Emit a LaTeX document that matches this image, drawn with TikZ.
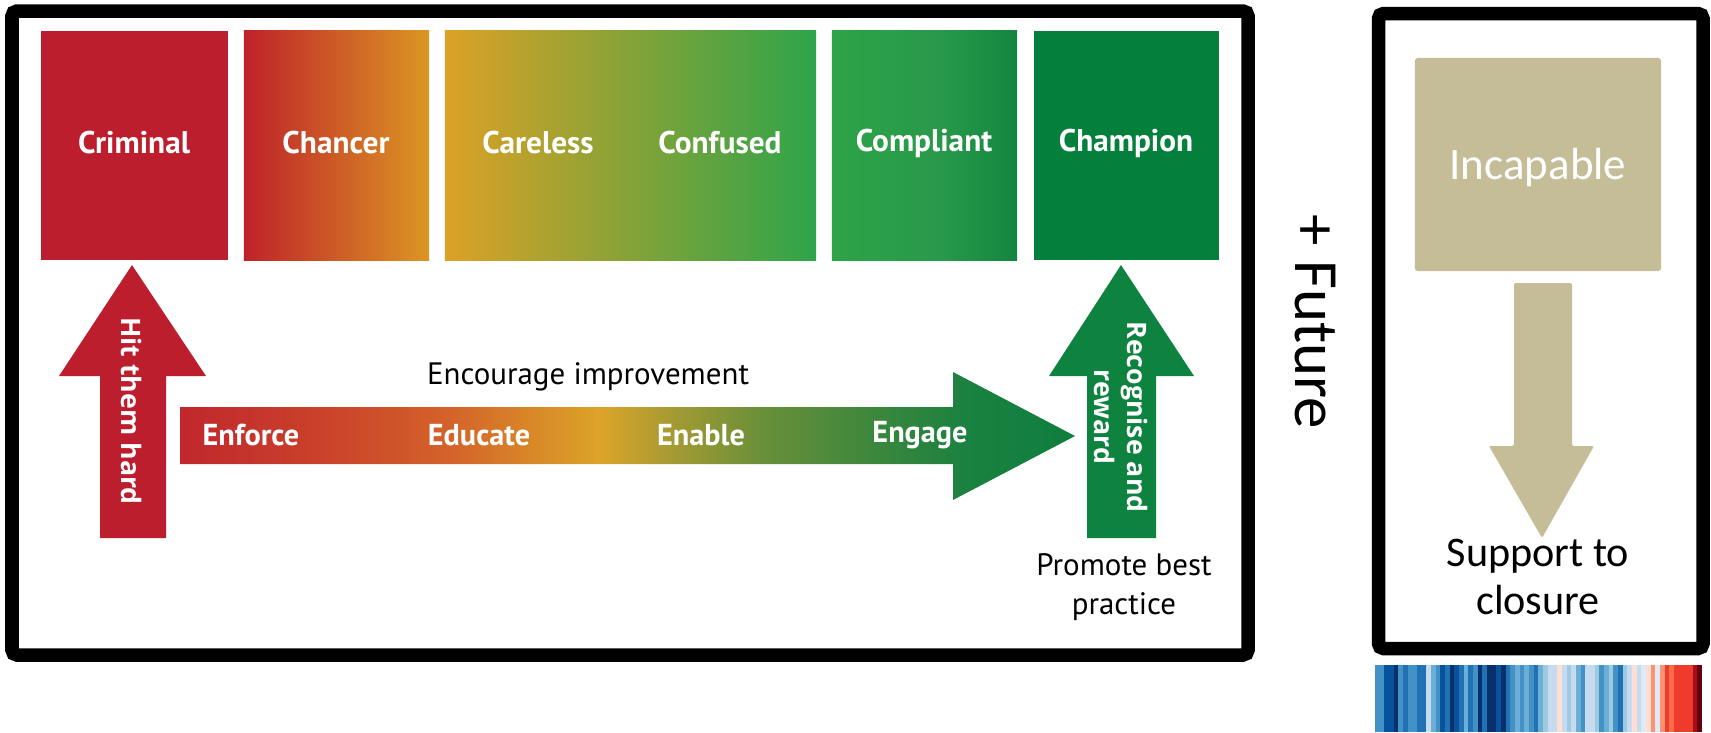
\documentclass[tikz,border=0pt]{standalone}
\usepackage{fontspec}
\setmainfont{PT Sans}
\newfontfamily\osans{Open Sans}
\newfontfamily\calib{Carlito}
\definecolor{crim}{HTML}{BD1E2D}
\definecolor{champ}{HTML}{05803C}
\definecolor{recog}{HTML}{0E833F}
\definecolor{tanc}{HTML}{C5BD97}
\definecolor{b1}{HTML}{08306B}
\definecolor{b2}{HTML}{08519C}
\definecolor{b3}{HTML}{2171B5}
\definecolor{b4}{HTML}{4292C6}
\definecolor{b5}{HTML}{6BAED6}
\definecolor{b6}{HTML}{9ECAE1}
\definecolor{b7}{HTML}{C6DBEF}
\definecolor{b8}{HTML}{DEEBF7}
\definecolor{r8}{HTML}{FEE0D2}
\definecolor{r7}{HTML}{FCBBA1}
\definecolor{r6}{HTML}{FC9272}
\definecolor{r5}{HTML}{FB6A4A}
\definecolor{r4}{HTML}{EF3B2C}
\definecolor{r3}{HTML}{CB181D}
\definecolor{r2}{HTML}{A50F15}
\definecolor{r1}{HTML}{67000D}
\definecolor{g0}{HTML}{C1272D}
\definecolor{g1}{HTML}{C9402B}
\definecolor{g2}{HTML}{D4622A}
\definecolor{g3}{HTML}{D98A28}
\definecolor{g4}{HTML}{DCA42A}
\definecolor{g5}{HTML}{A59A33}
\definecolor{g6}{HTML}{6A8F39}
\definecolor{g7}{HTML}{3A873D}
\definecolor{g8}{HTML}{1A8140}
\definecolor{g9}{HTML}{0E7F3E}
\definecolor{chL}{HTML}{BF2229}
\definecolor{chR}{HTML}{DB9623}
\definecolor{caL}{HTML}{DCA126}
\definecolor{caR}{HTML}{2EA44A}
\definecolor{coL}{HTML}{2EA348}
\definecolor{coM}{HTML}{28994A}
\definecolor{coR}{HTML}{138540}
\pgfdeclarehorizontalshading{chancersh}{100bp}{color(0bp)=(chL); color(25bp)=(chL); color(75bp)=(chR); color(100bp)=(chR)}
\pgfdeclarehorizontalshading{carelesssh}{100bp}{color(0bp)=(caL); color(25bp)=(caL); color(75bp)=(caR); color(100bp)=(caR)}
\pgfdeclarehorizontalshading{compliantsh}{100bp}{color(0bp)=(coL); color(25bp)=(coL); color(55bp)=(coM); color(75bp)=(coR); color(100bp)=(coR)}
\pgfdeclarehorizontalshading{improvesh}{100bp}{color(0bp)=(g0); color(25bp)=(g0); color(32.5bp)=(g1); color(40bp)=(g2); color(45bp)=(g3); color(48.5bp)=(g4); color(52.5bp)=(g5); color(57.5bp)=(g6); color(64bp)=(g7); color(69bp)=(g8); color(75bp)=(g9); color(100bp)=(g9)}
\begin{document}
\begin{tikzpicture}[x=0.01cm,y=-0.01cm,
  boxlab/.style={text=white,font=\bfseries\fontsize{8.9}{10}\selectfont,inner sep=0pt},
  arrlab/.style={text=white,font=\bfseries\fontsize{8.6}{10}\selectfont,inner sep=0pt},
  vlab/.style={text=white,font=\osans\bfseries\fontsize{7.6}{9.4}\selectfont,inner sep=0pt,rotate=-90,align=center},
  blab/.style={text=black,font=\fontsize{8.8}{11.1}\selectfont,inner sep=0pt,align=center},
  frame/.style={draw=black,line width=0.135cm,rounded corners=0.05cm},
  box/.style={inner sep=0pt,minimum height=2.29cm}
]
\useasboundingbox (0,0) rectangle (1711,732);
\fill[white] (0,0) rectangle (1711,732);
% frames
\draw[frame] (12,11) rectangle (1248,655);
\draw[frame] (1378.5,13.5) rectangle (1703,648.5);
% boxes
\node[box,fill=crim,minimum width=1.87cm] (criminal) at (134.5,145.5) {};
\node[box,shading=chancersh,minimum width=1.85cm] (chancer) at (336.5,145.5) {};
\node[box,shading=carelesssh,minimum width=3.71cm] (careconf) at (630.5,145.5) {};
\node[box,shading=compliantsh,minimum width=1.85cm] (compliant) at (924.5,145.5) {};
\node[box,fill=champ,minimum width=1.85cm] (champion) at (1126.5,145.5) {};
\node[boxlab] (lcrim) at (134,143) {Criminal};
\node[boxlab] (lchan) at (336,143) {Chancer};
\node[boxlab] (lcare) at (538,143) {Careless};
\node[boxlab] (lconf) at (720,143) {Confused};
\node[boxlab] (lcomp) at (924,143) {Compliant};
\node[boxlab] (lchamp) at (1126,143) {Champion};
% hit arrow
\fill[crim] (100,538) -- (100,376) -- (59,376) -- (132,265) -- (206,376) -- (166,376) -- (166,538) -- cycle;
\node[vlab] (hit) at (132,411) {Hit them hard};
% improvement arrow
\shade[shading=improvesh] (180,407) -- (953,407) -- (953,372) -- (1075,436) -- (953,500) -- (953,464) -- (180,464) -- cycle;
\node[arrlab] (enf) at (251,435) {Enforce};
\node[arrlab] (edu) at (479,435) {Educate};
\node[arrlab] (ena) at (701,435) {Enable};
\node[arrlab] (eng) at (920,435) {Engage};
\node[blab] (enc) at (588,377) {Encourage improvement};
% recognise arrow
\fill[recog] (1087,538) -- (1087,376) -- (1049,376) -- (1121,265) -- (1194,376) -- (1156,376) -- (1156,538) -- cycle;
\node[vlab] (rec) at (1121,417) {Recognise and\\reward};
\node[blab] (prom) at (1124,587) {Promote best\\practice};
% future
\node[text=black,font=\calib\fontsize{17.9}{21}\selectfont,rotate=-90,inner sep=0pt] (future) at (1315,322) {+ Future};
% incapable
\node[fill=tanc,rounded corners=0.03cm,minimum width=2.46cm,minimum height=2.13cm,inner sep=0pt] (incap) at (1538,164.5) {};
\node[text=white,font=\calib\fontsize{12.8}{15}\selectfont,inner sep=0pt] (lincap) at (1538,167) {Incapable};
\fill[tanc,rounded corners=0.02cm] (1514,283) -- (1572,283) -- (1572,446) -- (1594,446) -- (1542,538) -- (1489,446) -- (1514,446) -- cycle;
\node[text=black,font=\calib\fontsize{12}{13.9}\selectfont,align=center,inner sep=0pt] (supp) at (1538,577) {Support to\\closure};
% stripes
\foreach \c [count=\i] in {b4,b4,b2,b2,b1,b4,b3,b4,b4,b3,b3,b7,b5,b4,b2,b3,b1,b2,b3,b5,b3,b4,b1,b3,b1,b1,b2,b1,b3,b4,b5,b4,b5,b4,b3,b5,b6,b7,b7,r8,b7,b6,b7,b5,b4,b7,b7,b6,b4,b5,b6,b4,b3,b6,b7,r8,b7,b8,r8,r6,b8,r6,r4,r5,r4,r4,r4,r4,r2,r1}
  \fill[\c] ({1375+(\i-1)*4.671},665) rectangle ({1375+\i*4.671+0.4},732);
\end{tikzpicture}
\end{document}
